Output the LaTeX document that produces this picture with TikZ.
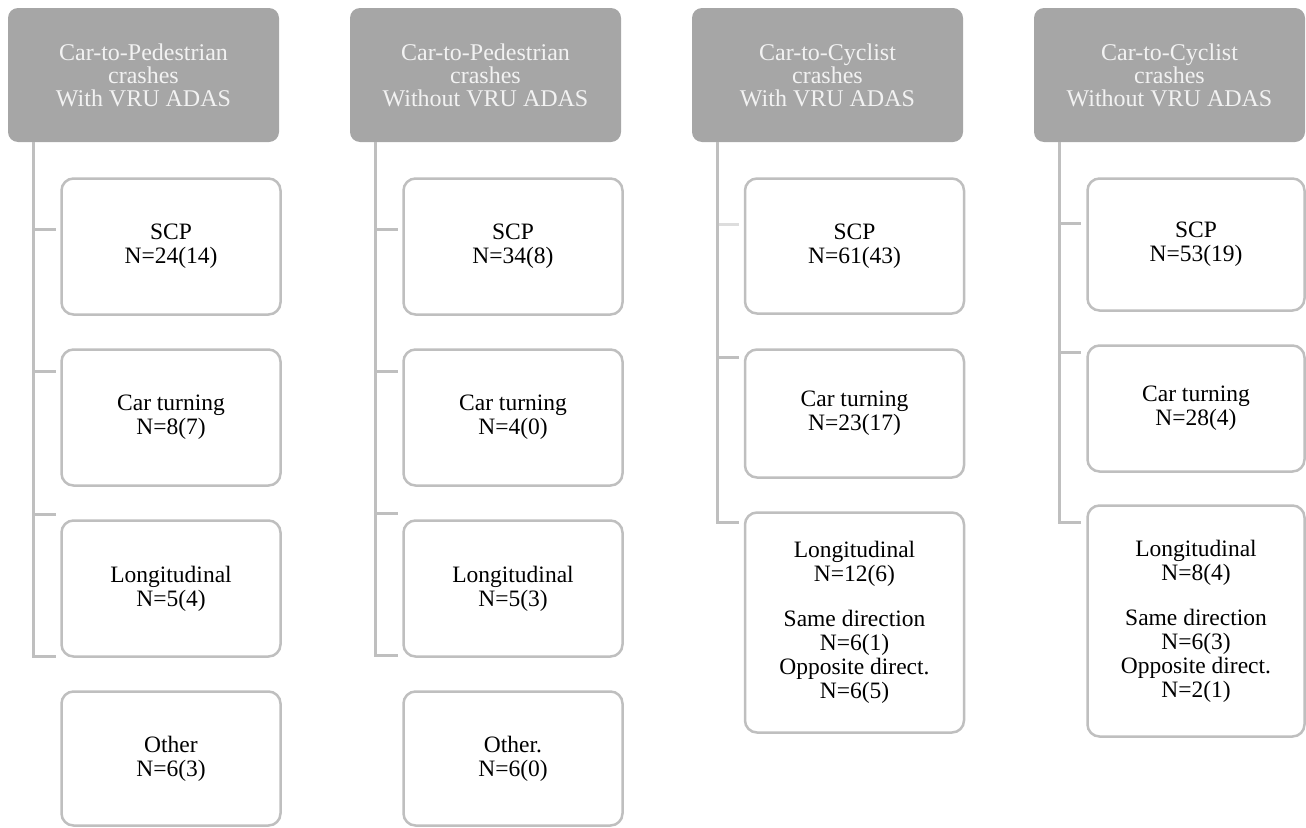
\documentclass[tikz,border=0pt]{standalone}
\usepackage{fontspec}
\setmainfont{Liberation Serif}
\definecolor{hdrfill}{HTML}{A6A6A6}
\definecolor{hdrtext}{HTML}{F2F2F2}
\definecolor{edgegray}{HTML}{BFBFBF}
\definecolor{faintgray}{HTML}{DDDDDD}
\begin{document}
\begin{tikzpicture}[x=1pt,y=-1pt,
  hdr/.style={fill=hdrfill, draw=none, rounded corners=10pt, minimum width=271pt, minimum height=134pt,
    inner sep=0pt, align=center, text=hdrtext, font=\fontsize{24}{23}\selectfont},
  leaf/.style={draw=edgegray, line width=2.5pt, fill=white, rounded corners=12pt, inner sep=0pt,
    align=center, text=black, font=\fontsize{23.5}{24}\selectfont},
  conn/.style={draw=edgegray, line width=3pt},
  faintconn/.style={draw=faintgray, line width=3pt}]
\useasboundingbox (0,0) rectangle (1306,827);

% headers
\node[hdr] (h1) at (143.5,75) {Car-to-Pedestrian\\crashes\\With VRU ADAS};
\node[hdr] (h2) at (485.5,75) {Car-to-Pedestrian\\crashes\\Without VRU ADAS};
\node[hdr] (h3) at (827.5,75) {Car-to-Cyclist\\crashes\\With VRU ADAS};
\node[hdr] (h4) at (1169.5,75) {Car-to-Cyclist\\crashes\\Without VRU ADAS};

% column 1
\node[leaf, minimum width=219pt, minimum height=136pt] (a1) at (171,246.5) {SCP\\N=24(14)};
\node[leaf, minimum width=219pt, minimum height=136pt] (b1) at (171,417.5) {Car turning\\N=8(7)};
\node[leaf, minimum width=219pt, minimum height=136pt] (c1) at (171,588.5) {Longitudinal\\N=5(4)};
\node[leaf, minimum width=219pt, minimum height=134pt] (d1) at (171,758.5) {Other\\N=6(3)};

% column 2
\node[leaf, minimum width=219pt, minimum height=136pt] (a2) at (513,246.5) {SCP\\N=34(8)};
\node[leaf, minimum width=219pt, minimum height=136pt] (b2) at (513,417.5) {Car turning\\N=4(0)};
\node[leaf, minimum width=219pt, minimum height=136pt] (c2) at (513,588.5) {Longitudinal\\N=5(3)};
\node[leaf, minimum width=219pt, minimum height=134pt] (d2) at (513,758.5) {Other.\\N=6(0)};

% column 3
\node[leaf, minimum width=219pt, minimum height=135pt] (a3) at (854.5,246) {SCP\\N=61(43)};
\node[leaf, minimum width=219pt, minimum height=128pt] (b3) at (854.5,413.5) {Car turning\\N=23(17)};
\node[leaf, minimum width=219pt, minimum height=220pt] (c3) at (854.5,622.5)
  {Longitudinal\\N=12(6)\\[21pt]Same direction\\N=6(1)\\Opposite direct.\\N=6(5)};

% column 4
\node[leaf, minimum width=217pt, minimum height=132pt] (a4) at (1196,244.5) {SCP\\N=53(19)};
\node[leaf, minimum width=217pt, minimum height=126pt] (b4) at (1196,408.5) {Car turning\\N=28(4)};
\node[leaf, minimum width=217pt, minimum height=231pt] (c4) at (1196,621)
  {Longitudinal\\N=8(4)\\[21pt]Same direction\\N=6(3)\\Opposite direct.\\N=2(1)};

% connectors column 1
\draw[conn] ([xshift=26pt]h1.south west) |- ([xshift=-4.5pt,yshift=17.5pt]a1.west);
\draw[conn] ([xshift=26pt]h1.south west) |- ([xshift=-4.5pt,yshift=46.5pt]b1.west);
\draw[conn] ([xshift=26pt]h1.south west) |- ([xshift=-4.5pt,yshift=74.5pt]c1.west);
\draw[conn] ([xshift=26pt]h1.south west) |- ([xshift=-4.5pt,yshift=102.5pt]d1.west);

% connectors column 2
\draw[conn] ([xshift=26pt]h2.south west) |- ([xshift=-4.5pt,yshift=17.5pt]a2.west);
\draw[conn] ([xshift=26pt]h2.south west) |- ([xshift=-4.5pt,yshift=46.5pt]b2.west);
\draw[conn] ([xshift=26pt]h2.south west) |- ([xshift=-4.5pt,yshift=75.5pt]c2.west);
\draw[conn] ([xshift=26pt]h2.south west) |- ([xshift=-4.5pt,yshift=103.5pt]d2.west);

% connectors column 3
\draw[faintconn] ([xshift=26pt]h3.south west) |- ([xshift=-5pt,yshift=22pt]a3.west);
\draw[conn] ([xshift=26pt]h3.south west) |- ([xshift=-5pt,yshift=56.5pt]b3.west);
\draw[conn] ([xshift=26pt]h3.south west) |- ([xshift=-5pt,yshift=100.5pt]c3.west);

% connectors column 4
\draw[conn] ([xshift=26pt]h4.south west) |- ([xshift=-5pt,yshift=21.5pt]a4.west);
\draw[conn] ([xshift=26pt]h4.south west) |- ([xshift=-5pt,yshift=56.5pt]b4.west);
\draw[conn] ([xshift=26pt]h4.south west) |- ([xshift=-5pt,yshift=99pt]c4.west);
\end{tikzpicture}
\end{document}
